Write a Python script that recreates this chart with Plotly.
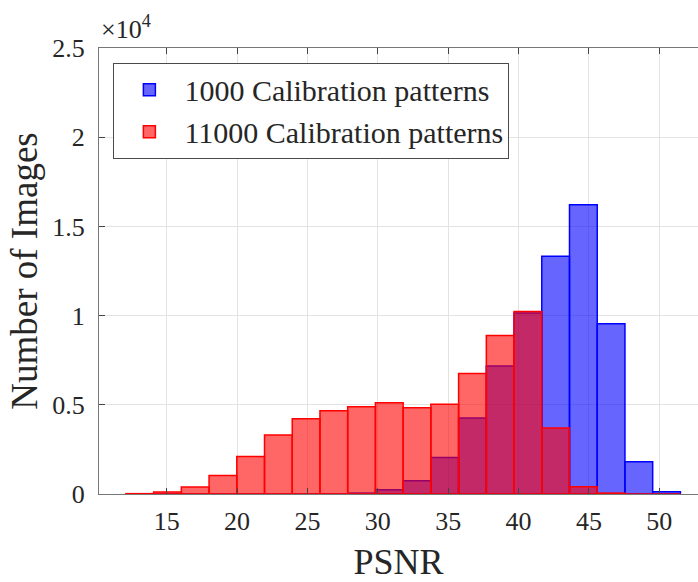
import plotly.graph_objects as go

# Histogram bin edges (PSNR) shared by both series
bin_edges = [12.10, 14.07, 16.04, 18.01, 19.98, 21.95, 23.92, 25.89, 27.86, 29.83,
             31.80, 33.77, 35.74, 37.71, 39.68, 41.65, 43.62, 45.59, 47.56, 49.53, 51.50]

counts_1000 = [0, 0, 0, 0, 0, 0, 0, 0, 50, 240, 740, 2050, 4260, 7170, 10150,
               13330, 16220, 9540, 1810, 130]
counts_11000 = [20, 110, 390, 1040, 2100, 3310, 4220, 4670, 4890, 5120, 4840, 5030,
                6750, 8880, 10230, 3700, 410, 50, 0, 0]

series_names = ["1000 Calibration patterns", "11000 Calibration patterns"]

x_tick_vals = [15, 20, 25, 30, 35, 40, 45, 50]
y_tick_vals = [0, 5000, 10000, 15000, 20000, 25000]
y_tick_text = ["0", "0.5", "1", "1.5", "2", "2.5"]

centers = [(a + b) / 2 for a, b in zip(bin_edges[:-1], bin_edges[1:])]
widths = [b - a for a, b in zip(bin_edges[:-1], bin_edges[1:])]

FONT = "Liberation Serif"
TXT = "#262626"

fig = go.Figure()
fig.add_trace(go.Bar(
    x=centers, y=counts_1000, width=widths, name=series_names[0],
    marker=dict(color="rgba(0,0,255,0.6)", line=dict(color="rgb(0,0,255)", width=1.5)),
))
fig.add_trace(go.Bar(
    x=centers, y=counts_11000, width=widths, name=series_names[1],
    marker=dict(color="rgba(255,0,0,0.6)", line=dict(color="rgb(255,0,0)", width=1.5)),
))

fig.update_layout(
    width=698, height=582,
    margin=dict(l=99, r=0, t=48, b=88),
    barmode="overlay",
    plot_bgcolor="white", paper_bgcolor="white",
    font=dict(family=FONT, color=TXT),
    showlegend=True,
    legend=dict(
        x=0.024, y=0.967, xanchor="left", yanchor="top",
        bgcolor="white", bordercolor="#4a4a4a", borderwidth=1,
        font=dict(family=FONT, size=30, color=TXT),
        itemwidth=60, tracegroupgap=0,
    ),
    xaxis=dict(
        range=[10.19, 52.75],
        tickvals=x_tick_vals,
        ticks="inside", ticklen=6, tickcolor="#444",
        showline=True, linecolor="#777", linewidth=1, mirror="ticks",
        showgrid=True, gridcolor="#e3e3e3", gridwidth=1,
        zeroline=False,
        ticklabelstandoff=4,
        tickfont=dict(family=FONT, size=26, color=TXT),
        title=dict(text="PSNR", font=dict(family=FONT, size=36, color=TXT), standoff=20),
    ),
    yaxis=dict(
        range=[0, 25000],
        tickvals=y_tick_vals, ticktext=y_tick_text,
        ticks="inside", ticklen=6, tickcolor="#444",
        showline=True, linecolor="#777", linewidth=1, mirror=False,
        showgrid=True, gridcolor="#e3e3e3", gridwidth=1,
        zeroline=False,
        ticklabelstandoff=8,
        tickfont=dict(family=FONT, size=26, color=TXT),
        title=dict(text="Number of Images", font=dict(family=FONT, size=37, color=TXT), standoff=3),
    ),
    annotations=[dict(
        text="×10<sup>4</sup>", xref="paper", yref="paper", x=0, y=1,
        xanchor="left", yanchor="bottom", showarrow=False, yshift=2,
        font=dict(family=FONT, size=26, color=TXT),
    )],
)

fig.write_html("out.html")
